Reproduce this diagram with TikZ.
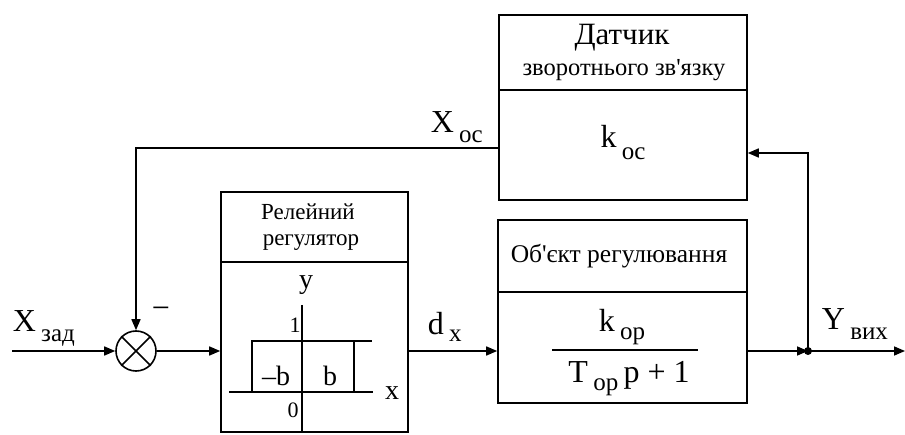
\documentclass[tikz,border=0pt]{standalone}
\usepackage{fontspec}
\setmainfont{Liberation Serif}[Ligatures=TeXOff]
\usetikzlibrary{arrows.meta}
\newcommand{\bigf}{\fontsize{32}{34}\selectfont}
\newcommand{\subf}{\fontsize{25}{27}\selectfont}
\newcommand{\hdf}{\fontsize{23}{26}\selectfont}
\begin{document}
\begin{tikzpicture}[x=1pt,y=-1pt,line width=1.6pt,
  >={Triangle[length=11pt,width=9pt]},
  blk/.style={draw,rectangle,inner sep=0pt},
  lbl/.style={inner sep=0pt,font=\bigf},
  txt/.style={inner sep=0pt,font=\hdf}]
\useasboundingbox (0,0) rectangle (905,435);
% blocks
\node[blk,minimum width=248pt,minimum height=185pt] (sens) at (623,107.5) {};
\node[blk,minimum width=249pt,minimum height=183pt] (obj) at (622.5,311.5) {};
\node[blk,minimum width=187pt,minimum height=240pt] (rel) at (314.5,312) {};
\node[draw,circle,minimum size=40pt,inner sep=0pt] (sum) at (136,351) {};
\draw (sum.north east) -- (sum.south west) (sum.north west) -- (sum.south east);
% dividers
\draw (sens.west |- 0,90) -- (sens.east |- 0,90);
\draw (obj.west |- 0,292) -- (obj.east |- 0,292);
\draw (rel.west |- 0,262) -- (rel.east |- 0,262);
% headers
\node[txt,font=\fontsize{31}{33}\selectfont] (h1) at (622,38) {Датчик};
\node[txt,font=\fontsize{24.5}{26}\selectfont] (h2) at (624,70) {зворотнього зв'язку};
\node[txt,font=\fontsize{25.5}{27}\selectfont] (h3) at (619,256) {Об'єкт регулювання};
\node[txt] (h4) at (308,212) {Релейний};
\node[txt] (h5) at (311,243) {регулятор};
% transfer functions
\node[lbl,anchor=base] (koc) at (623,148) {k\,\raisebox{-0.35em}{\subf oc}};
\node[lbl,anchor=base] (kop) at (622,332) {k\,\raisebox{-0.22em}{\subf op}};
\draw[line width=1.3pt] (552,350) -- (698,350);
\node[lbl,anchor=base] (den) at (629,383) {T\,\raisebox{-0.22em}{\subf op}\,p + 1};
% relay characteristic
\draw (302,305) -- (302,432);
\draw (229,392) -- (373,392);
\draw (252,392) -- (252,341) -- (372,341);
\draw (354,341) -- (354,392);
\node[lbl,font=\fontsize{28}{30}\selectfont] (ly) at (306,285) {y};
\node[lbl,font=\fontsize{22}{24}\selectfont] (l1) at (295,325) {1};
\node[lbl,font=\fontsize{28}{30}\selectfont] (lmb) at (276,376) {–b};
\node[lbl,font=\fontsize{28}{30}\selectfont] (lb) at (330,376) {b};
\node[lbl,font=\fontsize{28}{30}\selectfont] (lx) at (392,393) {x};
\node[lbl,font=\fontsize{22}{24}\selectfont] (l0) at (293,410) {0};
% connectors
\coordinate (in) at (12,351);
\coordinate (dot) at (808,351);
\coordinate (out) at (905,351);
\coordinate (fb) at (808,153);
\coordinate (fbl) at (136,148);
\draw[->] (in) -- (sum.west);
\draw[->] (sum.east) -- (sum.east -| rel.west);
\draw[->] (rel.east |- sum) -- (obj.west |- sum);
\draw[->] (obj.east |- sum) -- (dot);
\draw[->] (dot) -- (out);
\fill (dot) circle (4pt);
\draw[->] (dot) -- (fb) -- (fb -| sens.east);
\draw[->] (fbl -| sens.west) -- (fbl) -- (sum.north);
% signal labels
\node[lbl,anchor=base west] (xz) at (12,332) {X\,\raisebox{-0.3em}{\subf зад}};
\node[lbl,anchor=base west] (xo) at (430,133) {X\,\raisebox{-0.3em}{\subf oc}};
\node[lbl,anchor=base west] (dx) at (427,335) {d\,\raisebox{-0.2em}{\subf x}};
\node[lbl,anchor=base west] (yv) at (821,330) {Y\,\raisebox{-0.3em}{\subf вих}};
\node[lbl] (mn) at (161,313) {−};
\end{tikzpicture}
\end{document}
